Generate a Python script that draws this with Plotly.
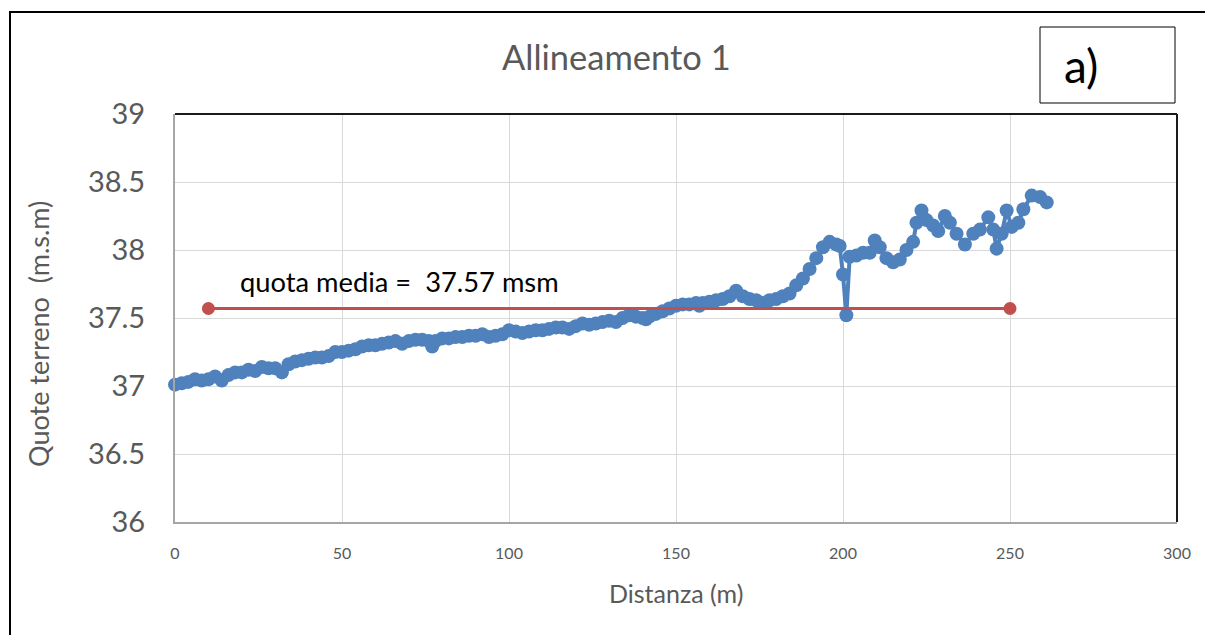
import plotly.graph_objects as go

# ---- data ----
distanza = [0, 2, 4, 6, 8, 10, 12, 14, 16, 18, 20, 22, 24, 26, 28, 30, 32, 34, 36, 38,
            40, 42, 44, 46, 48, 50, 52, 54, 56, 58, 60, 62, 64, 66, 68, 70, 72, 74, 76, 77,
            78, 80, 82, 84, 86, 88, 90, 92, 94, 96, 98, 100, 102, 104, 106, 108, 110, 112, 114, 116,
            118, 120, 122, 124, 126, 128, 130, 132, 134, 136, 138, 140, 141, 142, 144, 146, 148, 150, 152, 154,
            156, 157, 158, 160, 162, 164, 166, 168, 170, 172, 174, 176, 178, 180, 182, 184, 186, 188, 190, 192,
            194, 196, 198, 199, 200, 201, 202, 204, 206, 208, 209.5, 211, 213, 215, 217, 219, 221, 222, 223.5, 225,
            227, 228.5, 230.5, 232, 234, 236.5, 239, 241, 243.5, 245, 246, 247.5, 249, 250.5, 252.5, 254, 256.5, 259, 261]
quote = [37.01, 37.02, 37.03, 37.05, 37.04, 37.05, 37.07, 37.04, 37.08, 37.10, 37.10, 37.12, 37.11, 37.14, 37.13, 37.13, 37.10, 37.16, 37.18, 37.19,
         37.20, 37.21, 37.21, 37.22, 37.25, 37.25, 37.26, 37.27, 37.29, 37.30, 37.30, 37.31, 37.32, 37.33, 37.31, 37.33, 37.34, 37.34, 37.33, 37.29,
         37.33, 37.35, 37.35, 37.36, 37.36, 37.37, 37.37, 37.38, 37.36, 37.37, 37.38, 37.41, 37.40, 37.39, 37.40, 37.41, 37.41, 37.42, 37.43, 37.43,
         37.42, 37.44, 37.46, 37.45, 37.46, 37.47, 37.48, 37.47, 37.50, 37.52, 37.51, 37.50, 37.49, 37.51, 37.53, 37.55, 37.57, 37.59, 37.60, 37.60,
         37.61, 37.59, 37.61, 37.62, 37.63, 37.64, 37.66, 37.70, 37.66, 37.64, 37.63, 37.61, 37.63, 37.64, 37.66, 37.68, 37.74, 37.79, 37.86, 37.94,
         38.02, 38.06, 38.04, 38.03, 37.82, 37.52, 37.95, 37.96, 37.98, 37.98, 38.07, 38.02, 37.94, 37.91, 37.93, 38.00, 38.06, 38.20, 38.29, 38.22,
         38.18, 38.14, 38.25, 38.20, 38.12, 38.04, 38.12, 38.15, 38.24, 38.15, 38.01, 38.12, 38.29, 38.17, 38.20, 38.30, 38.40, 38.39, 38.35]
assert len(distanza) == len(quote)

media_x = [10, 250]
media_y = [37.57, 37.57]
media_label = "quota media =  37.57 msm"

titolo = "Allineamento 1"
x_title = "Distanza (m)"
y_title = "Quote terreno  (m.s.m)"
pannello = "a)"

FONT = "Lato, 'Open Sans', sans-serif"
GREY = "#595959"

# plot area in page pixels (reference): x 175..1177, y 114..522 ; page body offset 8px
OFF = 8
PL, PT, PW, PH = 175, 114, 1002, 408


def px(xp):
    return (xp - PL) / PW


def py(yp):
    return (PT + PH - yp) / PH


fig = go.Figure()
fig.add_trace(go.Scatter(
    x=distanza, y=quote, mode="lines+markers",
    line=dict(color="#4F81BD", width=4),
    marker=dict(color="#4F81BD", size=14),
    showlegend=False, cliponaxis=False,
))
fig.add_trace(go.Scatter(
    x=media_x, y=media_y, mode="lines+markers",
    line=dict(color="#C0504D", width=3),
    marker=dict(color="#C0504D", size=13),
    showlegend=False,
))

W, H = 1213 - OFF, 635 - OFF
fig.update_layout(
    width=W, height=H,
    margin=dict(l=PL - OFF, r=W - (PL - OFF) - PW, t=PT - OFF, b=H - (PT - OFF) - PH),
    paper_bgcolor="white", plot_bgcolor="white",
    font=dict(family=FONT, color=GREY),
    xaxis=dict(range=[0, 300], dtick=50, tick0=0, showgrid=True, gridcolor="#D9D9D9", gridwidth=1,
               showline=True, linecolor="#A6A6A6", linewidth=2, zeroline=False, ticks="",
               tickfont=dict(size=16, color=GREY), ticklabelstandoff=16),
    yaxis=dict(range=[36, 39], dtick=0.5, tick0=36, showgrid=True, gridcolor="#D9D9D9", gridwidth=1,
               showline=True, linecolor="#A6A6A6", linewidth=2, zeroline=False, ticks="",
               tickfont=dict(size=29, color=GREY), ticklabelstandoff=22),
)

# plot-area border (top and right dark)
fig.add_shape(type="line", xref="paper", yref="paper", x0=0, x1=1, y0=1, y1=1,
              line=dict(color="#1a1a1a", width=2))
fig.add_shape(type="line", xref="paper", yref="paper", x0=1, x1=1, y0=0, y1=1,
              line=dict(color="#1a1a1a", width=2))
# outer chart border
fig.add_shape(type="rect", xref="paper", yref="paper",
              x0=px(10), x1=px(1216), y0=py(640), y1=py(12),
              line=dict(color="black", width=2))
# panel label box
fig.add_shape(type="rect", xref="paper", yref="paper",
              x0=px(1040), x1=px(1175), y0=py(103), y1=py(27),
              line=dict(color="black", width=1), fillcolor="white", layer="below")

fig.add_annotation(text=pannello, xref="paper", yref="paper",
                   x=px(1081), y=py(66), xanchor="center", yanchor="middle", showarrow=False,
                   font=dict(size=46, color="black", family=FONT))
fig.add_annotation(text=titolo, xref="paper", yref="paper",
                   x=px(616), y=py(56), xanchor="center", yanchor="middle", showarrow=False,
                   font=dict(size=34.5, color=GREY, family=FONT))
fig.add_annotation(text=x_title, xref="paper", yref="paper",
                   x=px(676), y=py(593), xanchor="center", yanchor="middle", showarrow=False,
                   font=dict(size=25, color=GREY, family=FONT))
fig.add_annotation(text=y_title, xref="paper", yref="paper", textangle=-90,
                   x=px(38), y=py(334), xanchor="center", yanchor="middle", showarrow=False,
                   font=dict(size=27, color=GREY, family=FONT))
fig.add_annotation(text=media_label, xref="x", yref="y",
                   x=19, y=37.77, xanchor="left", yanchor="middle", showarrow=False,
                   font=dict(size=27.3, color="black", family=FONT))

fig.write_html("out.html")
